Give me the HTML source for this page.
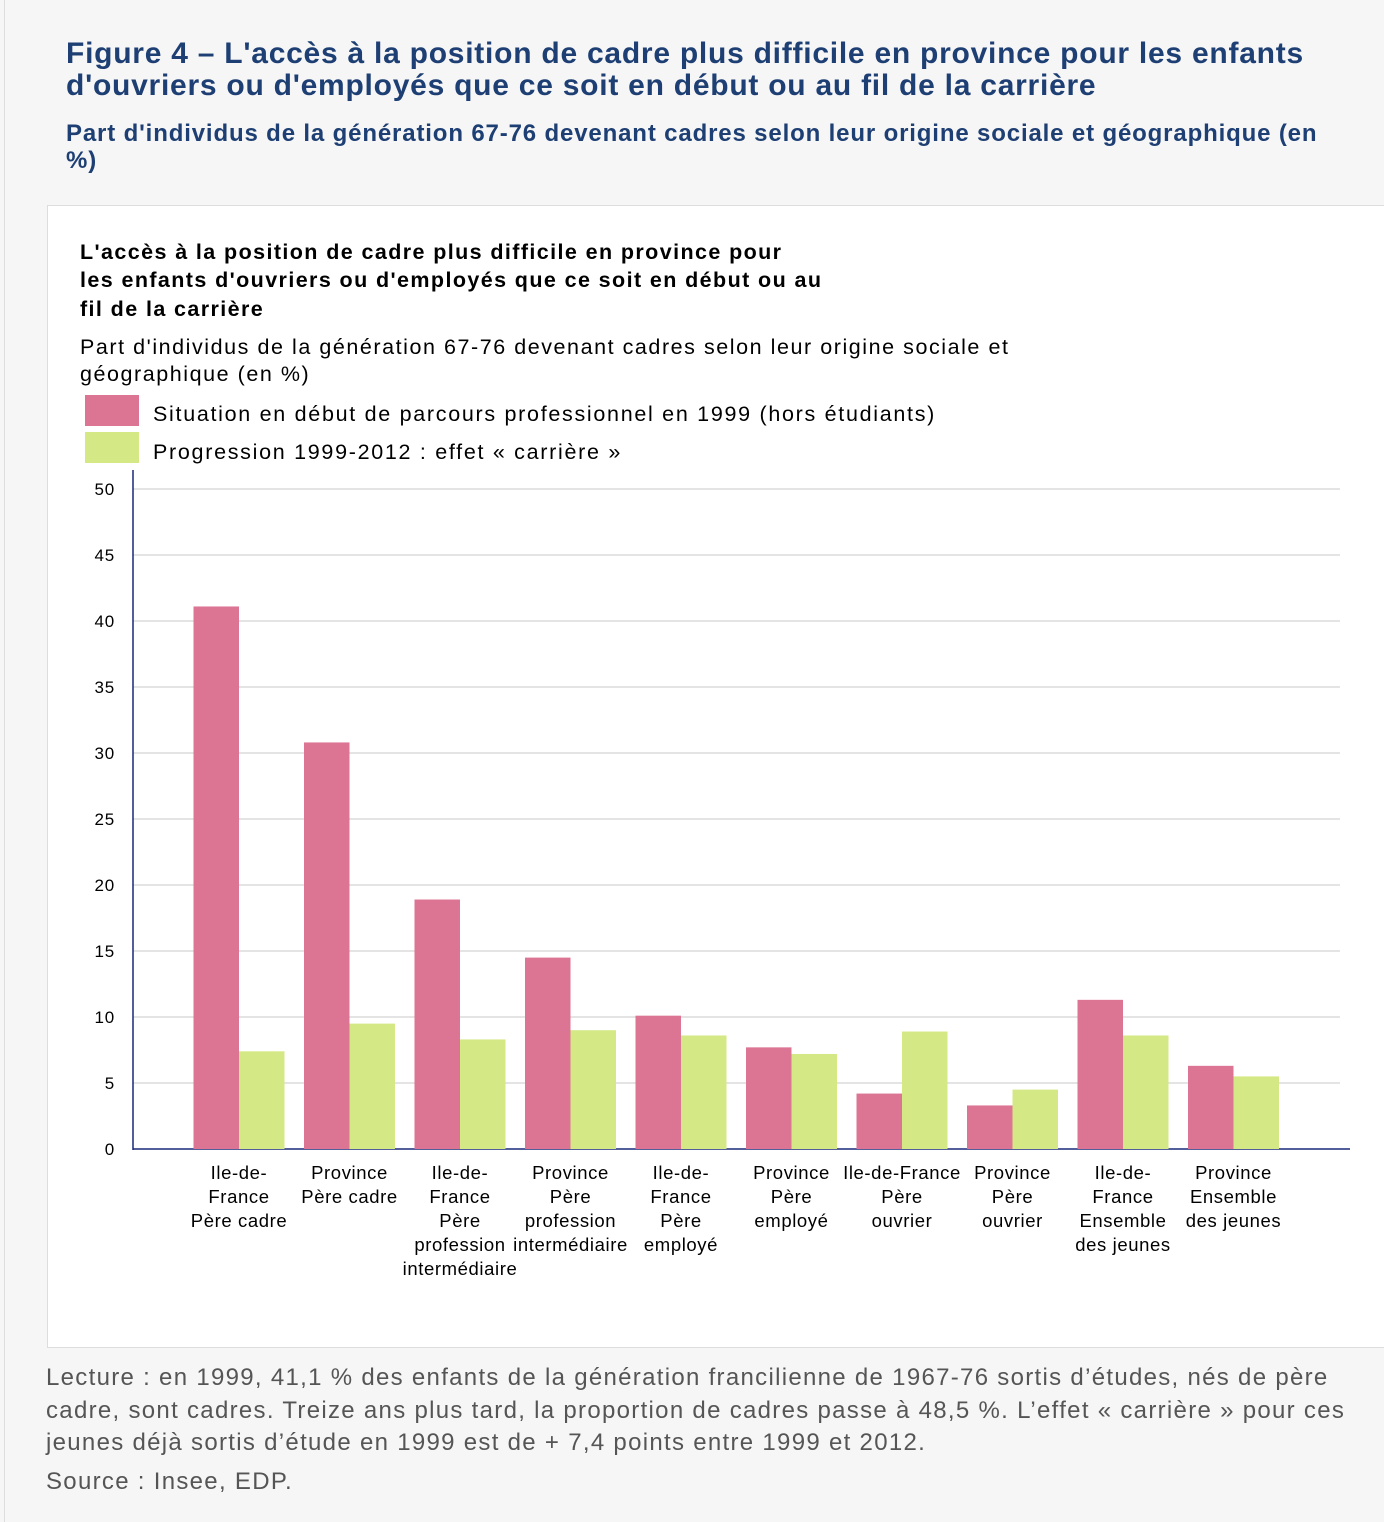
<!DOCTYPE html>
<html><head><meta charset="utf-8">
<style>
body{margin:0;width:1384px;height:1522px;background:#f6f6f6;font-family:"Liberation Sans",sans-serif;position:relative;overflow:hidden}
.abs{position:absolute}
#h1{left:66px;top:38px;font-size:30px;font-weight:bold;color:#1e3f73;line-height:32px;width:1300px;letter-spacing:0.75px}
#h2{left:66px;top:120px;font-size:24px;font-weight:bold;color:#1e3f73;line-height:27px;width:1280px;letter-spacing:0.85px}
#box{left:47px;top:205px;width:1345px;height:1141px;background:#fff;border:1px solid #ddd}
#foot{left:46px;top:1362px;font-size:24px;color:#555;line-height:32.5px;white-space:nowrap;letter-spacing:1.3px}
#src{left:46px;top:1468px;font-size:24px;color:#555;letter-spacing:1.3px}
</style></head><body>
<div class="abs" style="left:4px;top:0;width:1px;height:1522px;background:#ddd"></div>
<div id="h1" class="abs">Figure 4 – L'accès à la position de cadre plus difficile en province pour les enfants d'ouvriers ou d'employés que ce soit en début ou au fil de la carrière</div>
<div id="h2" class="abs">Part d'individus de la génération 67-76 devenant cadres selon leur origine sociale et géographique (en %)</div>
<div id="box" class="abs"></div>
<svg class="abs" style="left:0;top:0" width="1384" height="1522" id="chart">
<g font-family="Liberation Sans, sans-serif">
<text x="80" y="259" font-size="21.5" font-weight="bold" letter-spacing="1.4"><tspan x="80">L'accès à la position de cadre plus difficile en province pour</tspan><tspan x="80" dy="28">les enfants d'ouvriers ou d'employés que ce soit en début ou au</tspan><tspan x="80" dy="29">fil de la carrière</tspan></text>
<text x="80" y="354" font-size="21.5" letter-spacing="1.55"><tspan x="80">Part d'individus de la génération 67-76 devenant cadres selon leur origine sociale et</tspan><tspan x="80" dy="27">géographique (en %)</tspan></text>
<rect x="85" y="395" width="54" height="31" fill="#dc7494"/>
<text x="153" y="421" font-size="21.5" letter-spacing="1.7">Situation en début de parcours professionnel en 1999 (hors étudiants)</text>
<rect x="85" y="432" width="54" height="31" fill="#d4e886"/>
<text x="153" y="459" font-size="21.5" letter-spacing="1.7">Progression 1999-2012 : effet « carrière »</text>
<g id="grid"></g><g id="bars"></g><g id="xl"></g>
</g></svg>
<div id="foot" class="abs">Lecture : en 1999, 41,1 % des enfants de la génération francilienne de 1967-76 sortis d’études, nés de père<br>cadre, sont cadres. Treize ans plus tard, la proportion de cadres passe à 48,5 %. L’effet « carrière » pour ces<br>jeunes déjà sortis d’étude en 1999 est de + 7,4 points entre 1999 et 2012.</div>
<div id="src" class="abs">Source : Insee, EDP.</div>
<script>
const categories=[["Ile-de-","France","Père cadre"],["Province","Père cadre"],["Ile-de-","France","Père","profession","intermédiaire"],["Province","Père","profession","intermédiaire"],["Ile-de-","France","Père","employé"],["Province","Père","employé"],["Ile-de-France","Père","ouvrier"],["Province","Père","ouvrier"],["Ile-de-","France","Ensemble","des jeunes"],["Province","Ensemble","des jeunes"]];
const start1999=[41.1,30.8,18.9,14.5,10.1,7.7,4.2,3.3,11.3,6.3];
const progression=[7.4,9.5,8.3,9.0,8.6,7.2,8.9,4.5,8.6,5.5];
const yTicks=[0,5,10,15,20,25,30,35,40,45,50];
const NS="http://www.w3.org/2000/svg";
const y0=1149,pxU=13.2,x0=239,step=110.5,bw=45.5;
const y=v=>y0-v*pxU, xc=i=>x0+i*step;
function mk(p,t,a){const e=document.createElementNS(NS,t);for(const k in a)e.setAttribute(k,a[k]);document.getElementById(p).appendChild(e);return e;}
yTicks.forEach(t=>{
  if(t>0){const l=mk('grid','line',{x1:133,x2:1340,y1:y(t),y2:y(t),stroke:'#c8c8c8','stroke-width':1});
  
  }
  const tx=mk('grid','text',{x:115,y:y(t)+6,'font-size':17,'text-anchor':'end','letter-spacing':0.8});tx.textContent=t;
  
  
});
const ya=mk('grid','line',{x1:133,x2:133,y1:470,y2:1150,stroke:'#1a2a7a','stroke-width':1.5});


categories.forEach((c,i)=>{
  const a=mk('bars','rect',{x:xc(i)-bw,y:y(start1999[i]),width:bw,height:start1999[i]*pxU,fill:'#dc7494'});
  
  
  const b=mk('bars','rect',{x:xc(i),y:y(progression[i]),width:bw,height:progression[i]*pxU,fill:'#d4e886'});
  
  
  const t=mk('xl','text',{x:xc(i),y:1179,'font-size':18.5,'text-anchor':'middle','letter-spacing':0.6});
  
  
  c.forEach((s,j)=>{const ts=document.createElementNS(NS,'tspan');ts.setAttribute('x',xc(i));ts.setAttribute('dy',j?24:0);ts.textContent=s;t.appendChild(ts);});
});
const xa=mk('grid','line',{x1:133,x2:1350,y1:y0,y2:y0,stroke:'#1a2a7a','stroke-width':1.5});


</script>
</body></html>
